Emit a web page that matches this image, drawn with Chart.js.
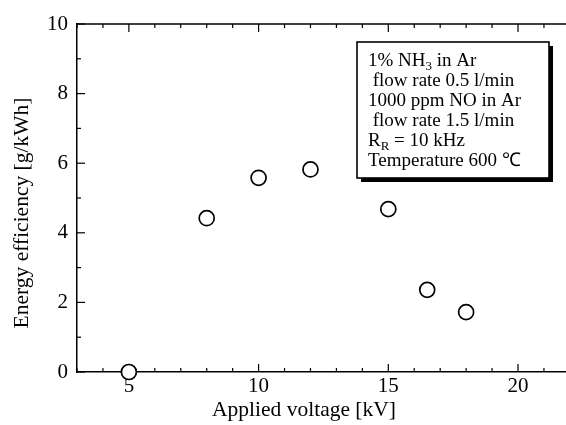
<!DOCTYPE html>
<html>
<head>
<meta charset="utf-8">
<script src="https://cdn.jsdelivr.net/npm/chart.js@4.4.1/dist/chart.umd.min.js"></script>
<style>
    html, body {
        margin: 0;
        padding: 0;
        overflow: hidden;
        background: #ffffff;
    }

    canvas {
        display: block;
    }
</style>
</head>
<body>
<canvas id="graficoEficiencia" width="566" height="425"></canvas>

<script>
// DADOS DO GRÁFICO
const tensoes = [5, 8, 10, 12, 15, 16.5, 18];

const eficiencias = [0, 4.42, 5.58, 5.82, 4.68, 2.36, 1.72];

// Rótulos dos eixos
const ticksX = [5, 10, 15, 20];

const ticksY = [0, 2, 4, 6, 8, 10];

// Textos
const tituloX = "Applied voltage [kV]";

const tituloY = "Energy efficiency [g/kWh]";

// Linhas da caixa de condições (sub = subscrito)
const linhasCaixa = [
    [{ t: "1% NH" }, { t: "3", sub: true }, { t: " in Ar" }],
    [{ t: " flow rate 0.5 l/min" }],
    [{ t: "1000 ppm NO in Ar" }],
    [{ t: " flow rate 1.5 l/min" }],
    [{ t: "R" }, { t: "R", sub: true }, { t: " = 10 kHz" }],
    [{ t: "Temperature 600 ℃" }],
];


const FONTE = '"Liberation Serif", "Times New Roman", serif';


// TICKS INTERNOS + EIXO SUPERIOR
const eixosInternos = {

    id: "eixosInternos",

    beforeDatasetsDraw(chart) {

        const { ctx, chartArea: area } = chart;
        const sx = chart.scales.x;
        const sy = chart.scales.y;

        ctx.save();
        ctx.strokeStyle = "#000";
        ctx.lineWidth = 1.5;

        // Linha superior
        ctx.beginPath();
        ctx.moveTo(area.left, area.top);
        ctx.lineTo(area.right, area.top);
        ctx.stroke();

        ctx.lineWidth = 1.2;

        // Ticks do eixo X (baixo e cima)
        for (let v = Math.ceil(sx.min); v <= sx.max; v++) {

            const px = sx.getPixelForValue(v);
            const tam = v % 5 === 0 ? 8 : 4;

            ctx.beginPath();
            ctx.moveTo(px, area.bottom);
            ctx.lineTo(px, area.bottom - tam);
            ctx.moveTo(px, area.top);
            ctx.lineTo(px, area.top + tam);
            ctx.stroke();
        }

        // Ticks do eixo Y
        for (let v = sy.min; v <= sy.max; v++) {

            const py = sy.getPixelForValue(v);
            const tam = v % 2 === 0 ? 8 : 4;

            ctx.beginPath();
            ctx.moveTo(area.left, py);
            ctx.lineTo(area.left + tam, py);
            ctx.stroke();
        }

        ctx.restore();
    },


    afterDraw(chart) {

        const { ctx } = chart;

        ctx.save();
        ctx.fillStyle = "#000";

        // TÍTULO X
        ctx.font = "21.5px " + FONTE;
        ctx.textAlign = "center";
        ctx.textBaseline = "middle";
        ctx.fillText(tituloX, 304, 410);

        // TÍTULO Y
        ctx.translate(22, 213);
        ctx.rotate(-Math.PI / 2);
        ctx.fillText(tituloY, 0, 0);

        ctx.restore();

        desenharCaixa(ctx);
    },
};


// CAIXA DE CONDIÇÕES
function desenharCaixa(ctx) {

    const x = 357, y = 42, w = 192, h = 136;

    ctx.save();

    // Sombra
    ctx.fillStyle = "#000";
    ctx.fillRect(x + 4, y + 4, w, h);

    // Fundo
    ctx.fillStyle = "#fff";
    ctx.fillRect(x, y, w, h);

    ctx.strokeStyle = "#000";
    ctx.lineWidth = 1.6;
    ctx.strokeRect(x, y, w, h);

    // Texto
    ctx.fillStyle = "#000";
    ctx.textBaseline = "alphabetic";
    ctx.textAlign = "left";

    linhasCaixa.forEach((partes, i) => {

        let px = 368;
        const base = 66 + i * 20;

        partes.forEach((p) => {

            ctx.font = (p.sub ? "13px " : "19px ") + FONTE;
            const dy = p.sub ? 4 : 0;
            ctx.fillText(p.t, px, base + dy);
            px += ctx.measureText(p.t).width;
        });
    });

    ctx.restore();
}


// CRIA GRÁFICO
function criarGrafico() {

    const canvas = document.getElementById("graficoEficiencia");

    new Chart(canvas, {

        type: "scatter",

        data: {

            datasets: [{

                data: tensoes.map((v, i) => ({ x: v, y: eficiencias[i] })),

                pointRadius: 7.5,

                pointHoverRadius: 7.5,

                pointBackgroundColor: "#ffffff",

                pointBorderColor: "#000000",

                pointBorderWidth: 1.7,

                clip: false,
            }],
        },

        options: {

            responsive: false,

            animation: false,

            layout: {

                // Sem folga automática para os pontos
                autoPadding: false,

                padding: { top: 24, right: 0, left: 0, bottom: 0 }
            },

            plugins: {

                legend: { display: false },

                tooltip: { enabled: false },
            },

            scales: {

                // EIXO X
                x: {

                    type: "linear",

                    min: 3,

                    max: 21.85,

                    afterBuildTicks: (escala) => {
                        escala.ticks = ticksX.map((v) => ({ value: v }));
                    },

                    // Altura fixa e sem folga lateral
                    afterFit: (escala) => {
                        escala.height = 53;
                        escala.paddingLeft = 0;
                        escala.paddingRight = 0;
                    },

                    grid: { display: false, drawTicks: false },

                    border: { display: true, color: "#000", width: 1.5 },

                    ticks: {

                        color: "#000",

                        padding: 2,

                        maxRotation: 0,

                        autoSkip: false,

                        font: { family: FONTE, size: 21 },
                    },
                },

                // EIXO Y
                y: {

                    min: 0,

                    max: 10,

                    afterBuildTicks: (escala) => {
                        escala.ticks = ticksY.map((v) => ({ value: v }));
                    },

                    afterFit: (escala) => {
                        escala.width = 77;
                        escala.paddingTop = 0;
                        escala.paddingBottom = 0;
                    },

                    grid: { display: false, drawTicks: false },

                    border: { display: true, color: "#000", width: 1.5 },

                    ticks: {

                        color: "#000",

                        padding: 9,

                        font: { family: FONTE, size: 21 },
                    },
                },
            },
        },

        plugins: [eixosInternos],
    });
}


document.addEventListener("DOMContentLoaded", criarGrafico);
</script>
</body>
</html>
